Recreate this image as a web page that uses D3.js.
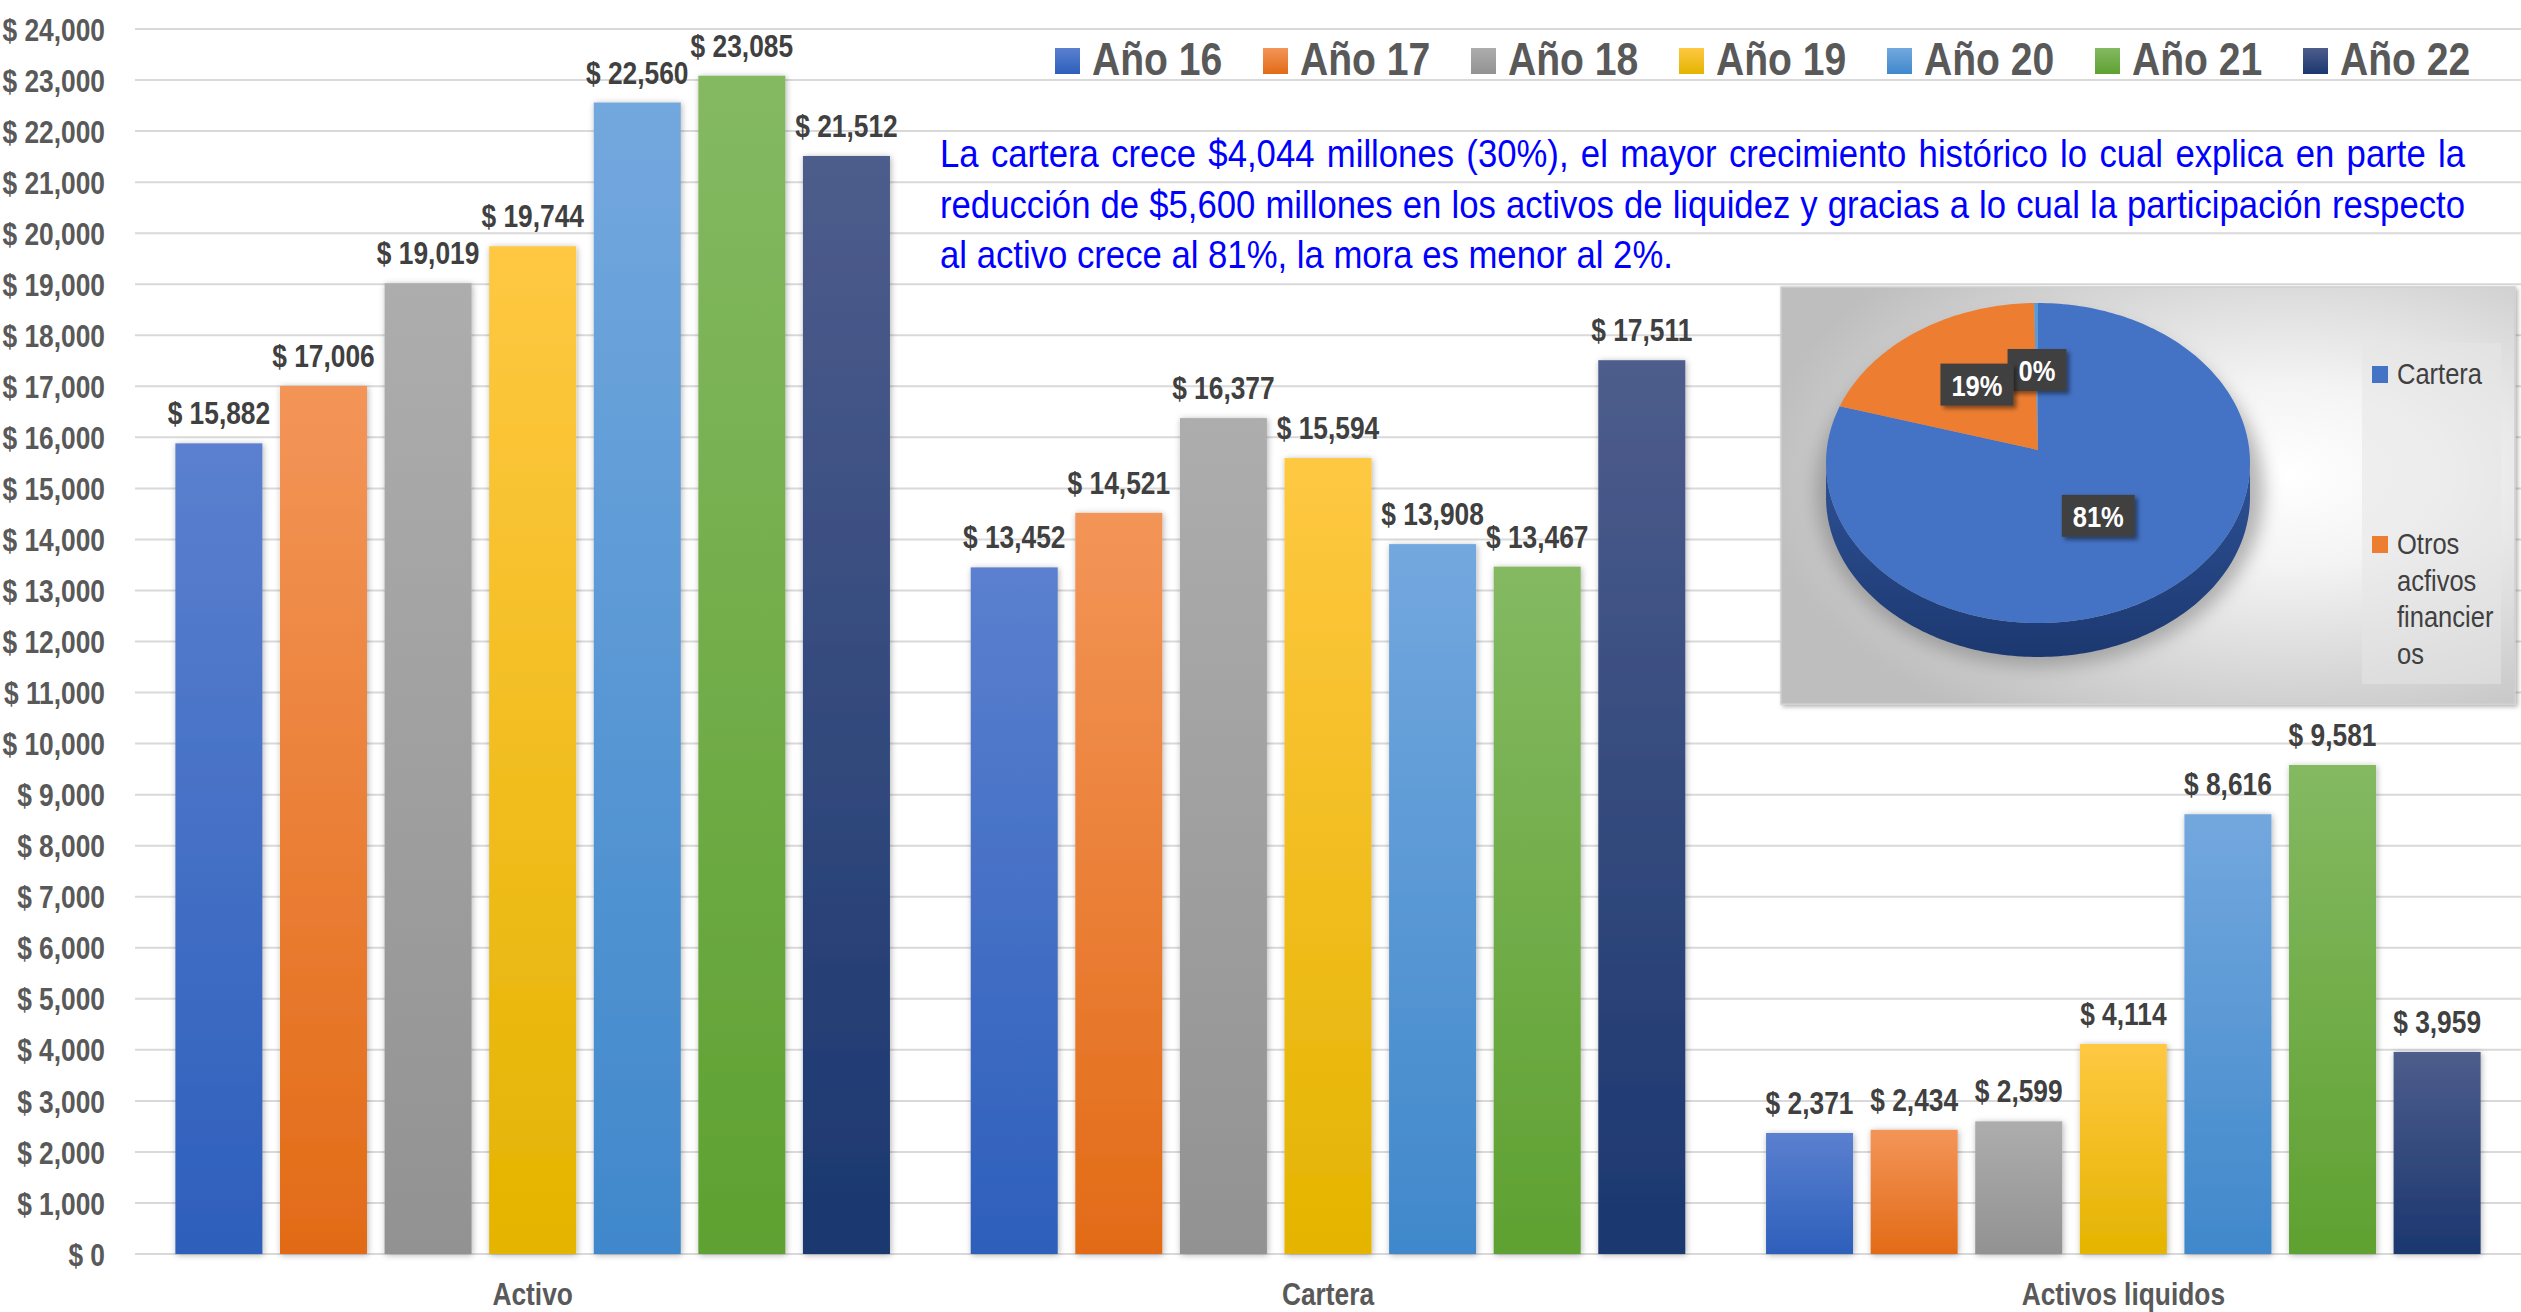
<!DOCTYPE html>
<html>
<head>
<meta charset="utf-8">
<script src="https://cdn.jsdelivr.net/npm/d3@7"></script>
<style>
  body { margin: 0; background: #ffffff; }
  svg { display: block; font-family: "Liberation Sans", Arial, sans-serif; }
</style>
</head>
<body>
<svg id="chart" width="2521" height="1312"></svg>
<script>
// ---- data ----
const categories = ["Activo", "Cartera", "Activos liquidos"];
const years = ["Año 16", "Año 17", "Año 18", "Año 19", "Año 20", "Año 21", "Año 22"];
const activo          = [15882, 17006, 19019, 19744, 22560, 23085, 21512];
const cartera         = [13452, 14521, 16377, 15594, 13908, 13467, 17511];
const activosLiquidos = [2371, 2434, 2599, 4114, 8616, 9581, 3959];
const yTicks = d3.range(0, 24001, 1000);

const pieNames  = ["Cartera", "Otros acfivos financieros", "Otros"];
const pieShares = [81, 19, 0.3];
const pieLegendLines = [["Cartera"], ["Otros", "acfivos", "financier", "os"]];

const noteLines = [
  "La cartera crece $4,044 millones (30%), el mayor crecimiento histórico lo cual explica en parte la",
  "reducción de $5,600 millones en los activos de liquidez y gracias a lo cual la participación respecto",
  "al activo crece al 81%, la mora es menor al 2%."
];

// bar gradient colours per year: lighter top, deeper bottom
const topColors    = ["#5B80CF", "#F39558", "#ADADAD", "#FFC842", "#73A8DE", "#84B962", "#4D5D8C"];
const bottomColors = ["#2D5FBB", "#E26B17", "#929292", "#E4B400", "#4088CB", "#5FA131", "#1B376F"];
const pieColors = ["#4472C4", "#ED7D31", "#5B9BD5"];
const pieSideColors = [["#2E5296", "#1C3870"], ["#B35A1F", "#8A4416"], ["#3F7AB8", "#2B5C90"]];

const valuesByCategory = [activo, cartera, activosLiquidos];
const rows = categories.map((c, ci) => ({ category: c, values: years.map((y, yi) => ({ year: y, yi, value: valuesByCategory[ci][yi] })) }));

// ---- layout ----
const W = 2521, H = 1312;
const plotLeft = 135, plotRight = 2521, plotTop = 29, plotBottom = 1254;
const NARROW = 0.85;

const svg = d3.select("#chart");
const defs = svg.append("defs");

years.forEach((y, i) => {
  const g = defs.append("linearGradient").attr("id", "grad" + i)
    .attr("x1", 0).attr("y1", 0).attr("x2", 0).attr("y2", 1);
  g.append("stop").attr("offset", "0%").attr("stop-color", topColors[i]);
  g.append("stop").attr("offset", "100%").attr("stop-color", bottomColors[i]);
});

const shadow = defs.append("filter").attr("id", "barShadow")
  .attr("x", "-20%").attr("y", "-5%").attr("width", "140%").attr("height", "110%");
shadow.append("feDropShadow").attr("dx", 1).attr("dy", 1).attr("stdDeviation", 3)
  .attr("flood-color", "#000").attr("flood-opacity", 0.3);

const labelShadow = defs.append("filter").attr("id", "labelShadow")
  .attr("x", "-20%").attr("y", "-20%").attr("width", "150%").attr("height", "150%");
labelShadow.append("feDropShadow").attr("dx", 3).attr("dy", 3).attr("stdDeviation", 2)
  .attr("flood-color", "#000").attr("flood-opacity", 0.45);

const blur = defs.append("filter").attr("id", "softBlur")
  .attr("x", "-30%").attr("y", "-30%").attr("width", "160%").attr("height", "160%");
blur.append("feGaussianBlur").attr("stdDeviation", 9);

const boxShadow = defs.append("filter").attr("id", "boxShadow")
  .attr("x", "-5%").attr("y", "-5%").attr("width", "110%").attr("height", "110%");
boxShadow.append("feDropShadow").attr("dx", 2).attr("dy", 2).attr("stdDeviation", 2)
  .attr("flood-color", "#000").attr("flood-opacity", 0.3);

const bg = defs.append("radialGradient").attr("id", "insetBg")
  .attr("cx", "69%").attr("cy", "45%").attr("r", "72%");
bg.append("stop").attr("offset", "0%").attr("stop-color", "#FFFFFF");
bg.append("stop").attr("offset", "30%").attr("stop-color", "#F4F4F4");
bg.append("stop").attr("offset", "100%").attr("stop-color", "#BEBEBE");

pieSideColors.forEach((c, i) => {
  const g = defs.append("linearGradient").attr("id", "pieSide" + i)
    .attr("x1", 0).attr("y1", 0).attr("x2", 0).attr("y2", 1);
  g.append("stop").attr("offset", "0%").attr("stop-color", c[0]);
  g.append("stop").attr("offset", "100%").attr("stop-color", c[1]);
});

// ---- scales ----
const y = d3.scaleLinear().domain([0, 24000]).range([plotBottom, plotTop]);
const x0 = d3.scaleBand().domain(categories).range([plotLeft, plotRight]).padding(0);
const x1 = d3.scaleBand().domain(years).range([0, x0.bandwidth()])
  .paddingInner(0.168).paddingOuter(0.386);

const fmt = d3.format(",");

// ---- gridlines ----
svg.append("g").attr("class", "grid")
  .selectAll("line").data(yTicks).join("line")
  .attr("x1", plotLeft).attr("x2", plotRight)
  .attr("y1", d => y(d)).attr("y2", d => y(d))
  .attr("stroke", "#D9D9D9").attr("stroke-width", 2);

// ---- y axis labels ----
const yAxis = svg.append("g").attr("transform", `translate(${plotLeft},0)`)
  .call(d3.axisLeft(y).tickValues(yTicks).tickSize(0).tickFormat(d => "$ " + fmt(d)));
yAxis.select(".domain").remove();
yAxis.selectAll("text")
  .attr("x", -30 / NARROW)
  .attr("dy", "0.36em")
  .attr("transform", `scale(${NARROW},1)`)
  .attr("font-family", "Liberation Sans, Arial, sans-serif")
  .attr("font-size", 31).attr("font-weight", "bold").attr("fill", "#595959");

// ---- x axis labels ----
svg.append("g").selectAll("text").data(categories).join("text")
  .attr("transform", d => `translate(${x0(d) + x0.bandwidth() / 2},1305) scale(${NARROW},1)`)
  .attr("text-anchor", "middle")
  .attr("font-size", 31).attr("font-weight", "bold").attr("fill", "#595959")
  .text(d => d);

// ---- bars ----
const groups = svg.append("g").selectAll("g").data(rows).join("g")
  .attr("transform", d => `translate(${x0(d.category)},0)`);

groups.selectAll("rect").data(d => d.values).join("rect")
  .attr("x", d => x1(d.year))
  .attr("y", d => y(d.value))
  .attr("width", x1.bandwidth())
  .attr("height", d => y(0) - y(d.value))
  .attr("fill", d => `url(#grad${d.yi})`)
  .attr("filter", "url(#barShadow)");

groups.selectAll("text.val").data(d => d.values).join("text")
  .attr("class", "val")
  .attr("transform", d => `translate(${x1(d.year) + x1.bandwidth() / 2},${y(d.value) - 19}) scale(${NARROW},1)`)
  .attr("text-anchor", "middle")
  .attr("font-size", 31).attr("font-weight", "bold").attr("fill", "#404040")
  .text(d => "$ " + fmt(d.value));

// ---- legend ----
const legend = svg.append("g").selectAll("g").data(years).join("g")
  .attr("transform", (d, i) => `translate(${1055 + i * 208},0)`);
legend.append("rect").attr("x", 0).attr("y", 48).attr("width", 25).attr("height", 26)
  .attr("fill", (d, i) => `url(#grad${i})`);
legend.append("text")
  .attr("transform", `translate(37,75) scale(${NARROW},1)`)
  .attr("font-size", 46).attr("font-weight", "bold").attr("fill", "#595959")
  .text(d => d);

// ---- commentary ----
const NOTE_SX = 0.89, noteLeft = 940, noteWidth = 1525;
noteLines.forEach((line, i) => {
  const t = svg.append("text")
    .attr("transform", `translate(${noteLeft},${167 + i * 50.5}) scale(${NOTE_SX},1)`)
    .attr("font-size", 39).attr("fill", "#0000FF")
    .text(line);
  if (i < noteLines.length - 1) {
    const natural = t.node().getComputedTextLength();
    const spaces = (line.match(/ /g) || []).length;
    t.style("word-spacing", ((noteWidth / NOTE_SX - natural) / spaces) + "px");
  }
});

// ---- inset pie ----
const inset = { x: 1781, y: 287, w: 734, h: 417 };
svg.append("rect").attr("x", inset.x).attr("y", inset.y)
  .attr("width", inset.w).attr("height", inset.h)
  .attr("fill", "url(#insetBg)").attr("stroke", "#CFCFCF").attr("stroke-width", 1.5)
  .attr("filter", "url(#boxShadow)");

const pc = { cx: 2038, cy: 463, rx: 212, ry: 160, vx: 2038, vy: 450, depth: 34 };
const proj = (a, dz = 0) => [pc.cx + pc.rx * Math.sin(a), pc.cy - pc.ry * Math.cos(a) + dz];

const pieData = d3.pie().sort(null).value(d => d)(pieShares);
const total = d3.sum(pieShares);

// soft shadow under the disc
svg.append("ellipse").attr("cx", pc.cx + 2).attr("cy", pc.cy + 28)
  .attr("rx", pc.rx + 12).attr("ry", pc.ry + 16)
  .attr("fill", "#7A7A7A").attr("opacity", 0.55).attr("filter", "url(#softBlur)");

function arcPoints(a0, a1, dz) {
  const n = Math.max(2, Math.ceil((a1 - a0) / 0.02));
  return d3.range(n + 1).map(k => proj(a0 + (a1 - a0) * k / n, dz));
}

// visible rim (front half of the disc)
const pieG = svg.append("g");
pieData.forEach((s, i) => {
  const a0 = Math.max(s.startAngle, Math.PI / 2), a1 = Math.min(s.endAngle, 3 * Math.PI / 2);
  if (a1 <= a0) return;
  const top = arcPoints(a0, a1, 0);
  const bot = arcPoints(a0, a1, pc.depth).reverse();
  pieG.append("path")
    .attr("d", "M" + top.concat(bot).map(p => p.join(",")).join("L") + "Z")
    .attr("fill", `url(#pieSide${i})`);
});

// top faces
pieData.forEach((s, i) => {
  const pts = arcPoints(s.startAngle, s.endAngle, 0);
  pieG.append("path")
    .attr("d", `M${pc.vx},${pc.vy}L` + pts.map(p => p.join(",")).join("L") + "Z")
    .attr("fill", pieColors[i]);
});

// percentage labels
const pieLabelG = svg.append("g");
pieData.slice().reverse().forEach(s => {
  const mid = (s.startAngle + s.endAngle) / 2;
  const lx = pc.vx + 0.5 * pc.rx * Math.sin(mid);
  const ly = pc.vy - 0.5 * pc.ry * Math.cos(mid);
  const txt = Math.round(s.value / total * 100) + "%";
  const g = pieLabelG.append("g").attr("transform", `translate(${lx},${ly})`);
  const rect = g.append("rect").attr("fill", "#404040").attr("filter", "url(#labelShadow)");
  const t = g.append("text")
    .attr("transform", `translate(0,11) scale(${NARROW},1)`)
    .attr("text-anchor", "middle")
    .attr("font-size", 30).attr("font-weight", "bold").attr("fill", "#FFFFFF")
    .text(txt);
  const w = t.node().getComputedTextLength() * NARROW + 22;
  rect.attr("x", -w / 2).attr("y", -21).attr("width", w).attr("height", 42);
});

// inset legend
svg.append("rect").attr("x", 2362).attr("y", 343).attr("width", 139).attr("height", 341)
  .attr("fill", "#E6E6E6").attr("opacity", 0.55);
const legBase = [384, 554];
pieLegendLines.forEach((lines, i) => {
  svg.append("rect").attr("x", 2372).attr("y", legBase[i] - 18).attr("width", 16).attr("height", 17)
    .attr("fill", pieColors[i]);
  lines.forEach((ln, k) => {
    svg.append("text")
      .attr("transform", `translate(2397,${legBase[i] + k * 36.5}) scale(0.88,1)`)
      .attr("font-size", 29).attr("fill", "#404040")
      .text(ln);
  });
});
</script>
</body>
</html>
